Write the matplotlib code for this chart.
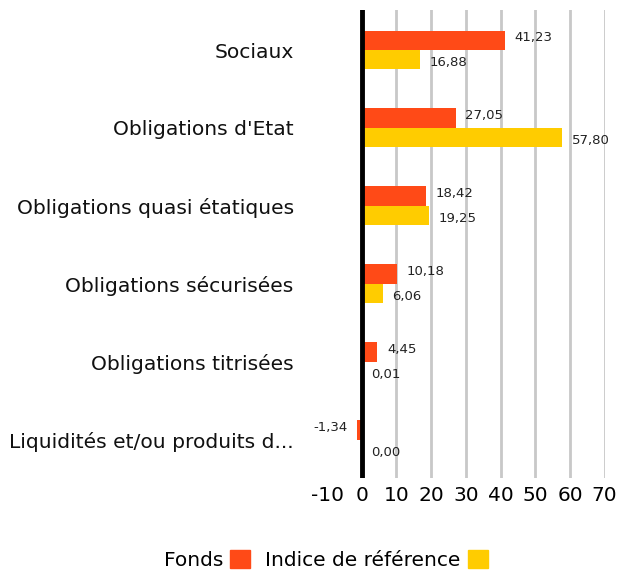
import matplotlib
matplotlib.use("Agg")
from matplotlib import pyplot as plt
from matplotlib.patches import Patch
import numpy as np

plt.rcParams['font.family'] = ['DejaVu Sans']

categories = ["Sociaux", "Obligations d'Etat", "Obligations quasi étatiques",
              "Obligations sécurisées", "Obligations titrisées",
              "Liquidités et/ou produits d..."]
fonds = [41.23, 27.05, 18.42, 10.18, 4.45, -1.34]
indice = [16.88, 57.80, 19.25, 6.06, 0.01, 0.00]
xticks = [-10, 0, 10, 20, 30, 40, 50, 60, 70]

c_fonds = '#FF4A17'
c_indice = '#FFCC00'


def fmt(v):
    return ("%.2f" % v).replace(".", ",")


fig = plt.figure(figsize=(6.17, 5.73), dpi=100)
ax = fig.add_axes([0.530, 0.166, 0.450, 0.8165])

y = np.arange(len(categories))
h = 0.25
ax.barh(y - h / 2, fonds, height=h, color=c_fonds, zorder=3)
ax.barh(y + h / 2, indice, height=h, color=c_indice, zorder=3)

for i in range(len(categories)):
    f = fonds[i]
    if f < 0:
        ax.annotate(fmt(f), (f, y[i] - h / 2), xytext=(-7, 2), textcoords='offset points',
                    ha='right', va='center', fontsize=9.5, color='#222222')
    else:
        ax.annotate(fmt(f), (f, y[i] - h / 2), xytext=(7, 2), textcoords='offset points',
                    ha='left', va='center', fontsize=9.5, color='#222222')
    ax.annotate(fmt(indice[i]), (max(indice[i], 0), y[i] + h / 2), xytext=(7, -2),
                textcoords='offset points', ha='left', va='center', fontsize=9.5,
                color='#222222')

for t in xticks[2:]:
    ax.axvline(t, color='#c8c8c8', lw=2, zorder=1)
ax.axvline(0, color='black', lw=3.5, zorder=4)

ax.set_xlim(-10, 70)
ax.set_ylim(len(categories) - 0.51, -0.513)
ax.set_xticks(xticks)
ax.set_xticklabels([str(t) for t in xticks], fontsize=14.5)
ax.set_yticks(y)
ax.set_yticklabels(categories, fontsize=14.6, color='#111111')
ax.tick_params(length=0, axis='x', pad=6)
ax.tick_params(length=0, axis='y', pad=24)
for s in ax.spines.values():
    s.set_visible(False)

handles = [Patch(color=c_fonds, label='Fonds'), Patch(color=c_indice, label='Indice de référence')]
fig.legend(handles=handles, loc='center', bbox_to_anchor=(0.528, 0.022), ncol=2,
           frameon=False, markerfirst=False, fontsize=14.5, handlelength=1.0,
           handleheight=1.0, handletextpad=0.35, columnspacing=0.75)

fig.savefig('out.png', dpi=100)
